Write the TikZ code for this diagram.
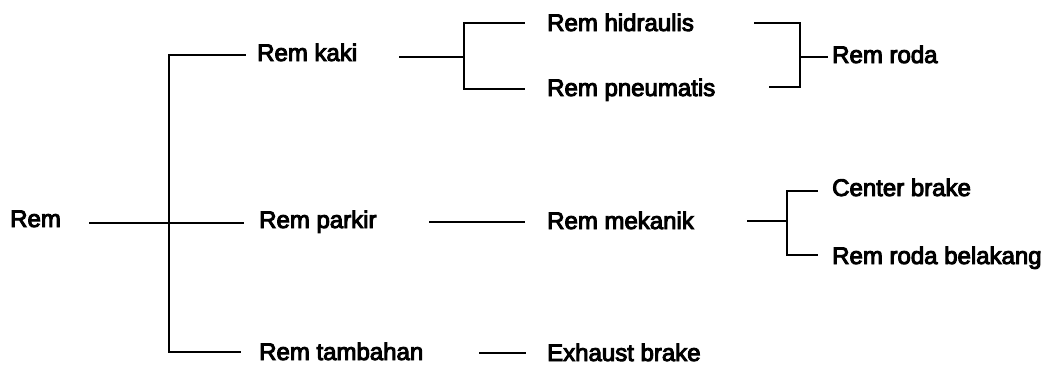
\documentclass[tikz,border=0pt]{standalone}
\usepackage{fontspec}
\setmainfont{Liberation Sans}
\newfontfamily\lblfont{Liberation Sans}[FakeBold=4]
\begin{document}
\begin{tikzpicture}[x=1pt,y=-1pt,
  lbl/.style={anchor=base west,inner sep=0pt,font=\lblfont\fontsize{24}{28}\selectfont},
  ln/.style={line width=1.7pt,line cap=rect}]
\useasboundingbox (0,0) rectangle (1042,365);
% text nodes
\node[lbl] (rem) at (10,227) {Rem};
\node[lbl] (kaki) at (257,61) {Rem kaki};
\node[lbl] (parkir) at (259,228) {Rem parkir};
\node[lbl] (tambahan) at (259,360) {Rem tambahan};
\node[lbl] (hidraulis) at (547,31) {Rem hidraulis};
\node[lbl] (pneumatis) at (547,96) {Rem pneumatis};
\node[lbl] (mekanik) at (547,229) {Rem mekanik};
\node[lbl] (exhaust) at (547,361) {Exhaust brake};
\node[lbl] (roda) at (832,63) {Rem roda};
\node[lbl] (center) at (832,196) {Center brake};
\node[lbl] (belakang) at (832,264) {Rem roda belakang};
% junction coordinates
\coordinate (remE) at (90,223);
\coordinate (parkirW) at (243,223);
\coordinate (jTop) at (169,55);
\coordinate (jBot) at (169,352);
\coordinate (kakiW) at (245,55);
\coordinate (tambahanW) at (240,352);
\coordinate (kakiE) at (400,57);
\coordinate (b1) at (464,57);
\coordinate (b1t) at (464,23);
\coordinate (b1b) at (464,89);
\coordinate (hidW) at (524,23);
\coordinate (pneW) at (524,89);
\coordinate (parkirE) at (430,222);
\coordinate (mekW) at (524,222);
\coordinate (tambahanE) at (480,353);
\coordinate (exW) at (525,353);
\coordinate (hidE) at (755,23);
\coordinate (pneE) at (770,87);
\coordinate (b2t) at (800,23);
\coordinate (b2b) at (800,87);
\coordinate (b2) at (800,57);
\coordinate (rodaW) at (827,57);
\coordinate (mekE) at (748,221);
\coordinate (b3) at (787,221);
\coordinate (b3t) at (787,191);
\coordinate (b3b) at (787,255);
\coordinate (centerW) at (817,191);
\coordinate (belakangW) at (817,255);
% connectors
\draw[ln,line width=1.3pt] (remE) -- (parkirW);
\draw[ln] (kakiW) -- (jTop) -- (jBot) -- (tambahanW);
\draw[ln] (kakiE) -- (b1);
\draw[ln] (hidW) -- (b1t) -- (b1b) -- (pneW);
\draw[ln] (parkirE) -- (mekW);
\draw[ln] (tambahanE) -- (exW);
\draw[ln] (hidE) -- (b2t) -- (b2b) -- (pneE);
\draw[ln,line width=1.2pt] (b2) -- (rodaW);
\draw[ln] (mekE) -- (b3);
\draw[ln] (centerW) -- (b3t) -- (b3b) -- (belakangW);
\end{tikzpicture}
\end{document}
